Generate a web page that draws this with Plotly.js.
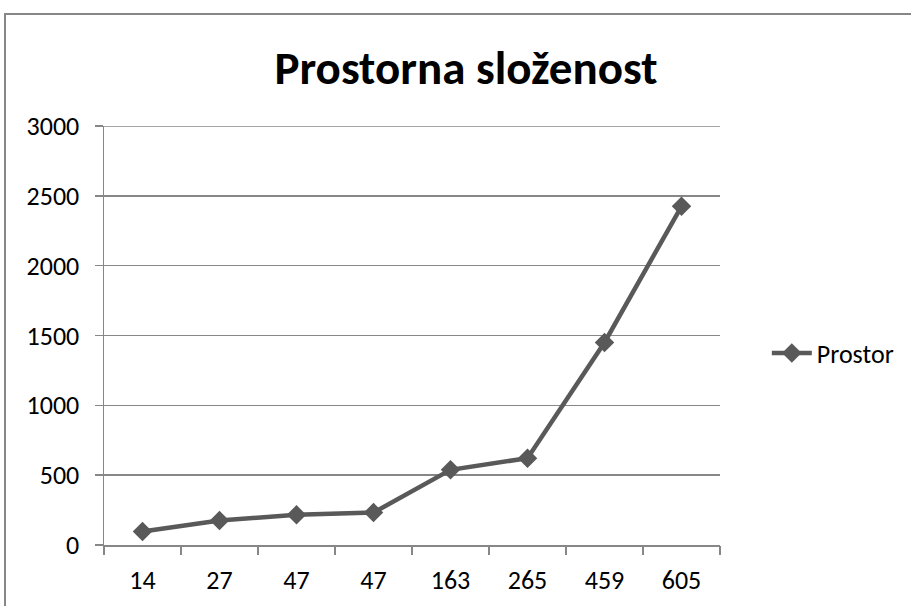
<!DOCTYPE html>
<html>
<head>
<meta charset="utf-8">
<script src="https://cdn.plot.ly/plotly-3.0.1.min.js"></script>
<style>
  html, body { margin: 0; padding: 0; background: #fff; overflow: hidden; }
  #chart { width: 911px; height: 606px; position: absolute; left: 0; top: 0; }
  #frame { position: absolute; left: 4px; top: 13px; width: 1000px; height: 1000px;
           border: 2px solid #878787; pointer-events: none; }
</style>
</head>
<body>
<div id="chart"></div>
<div id="frame"></div>
<script>
const categories = ["14", "27", "47", "47", "163", "265", "459", "605"];
const prostor = [96, 175, 216, 232, 538, 622, 1450, 2425];
const seriesName = "Prostor";
const chartTitle = "Prostorna složenost";
const yTicks = [0, 500, 1000, 1500, 2000, 2500, 3000];

const idx = categories.map((c, i) => i);
const boundaries = [];
for (let i = 0; i <= categories.length; i++) boundaries.push(i - 0.5);

const FONT = "Carlito, Lato, 'Open Sans', sans-serif";
const GRID = "#878787";
const LINE = "#595959";
const yMax = yTicks[yTicks.length - 1];

const trace = {
  x: idx, y: prostor, name: seriesName, type: "scatter", mode: "lines+markers",
  line: { color: LINE, width: 4.5 },
  marker: { symbol: "diamond", size: 15, color: LINE },
  cliponaxis: false
};
// invisible trace that carries the boundary tick marks on xaxis2
const tickTrace = {
  x: [boundaries[0], boundaries[boundaries.length - 1]], y: [0, 0], xaxis: "x2", yaxis: "y",
  mode: "none", showlegend: false, hoverinfo: "skip"
};

const layout = {
  width: 911, height: 606,
  margin: { l: 104, r: 191, t: 126, b: 61 },
  paper_bgcolor: "#fff", plot_bgcolor: "#fff",
  font: { family: FONT, color: "#000", size: 26 },
  title: { text: "<b>" + chartTitle + "</b>", font: { family: FONT, size: 47, color: "#000" },
           x: 466 / 911, xanchor: "center", xref: "container", y: 1 - 68 / 606, yanchor: "middle", yref: "container" },
  xaxis: {
    range: [-0.5, categories.length - 0.5], tickvals: idx, ticktext: categories,
    ticks: "", showgrid: false, zeroline: false, showline: true, linecolor: GRID, linewidth: 1.5,
    tickfont: { family: FONT, size: 26, color: "#000" }, ticklabelstandoff: 11
  },
  xaxis2: {
    overlaying: "x", anchor: "y", side: "bottom",
    range: [-0.5, categories.length - 0.5], tickvals: boundaries, ticktext: boundaries.map(() => ""),
    ticks: "outside", ticklen: 9, tickwidth: 1.5, tickcolor: GRID, showgrid: false, zeroline: false, showline: false
  },
  yaxis: {
    range: [0, yMax], tickvals: yTicks, ticktext: yTicks.map(String),
    ticks: "outside", ticklen: 8, tickwidth: 1.5, tickcolor: GRID,
    showgrid: true, gridcolor: GRID, gridwidth: 1.5, zeroline: false,
    showline: true, linecolor: GRID, linewidth: 1.5,
    tickfont: { family: FONT, size: 26, color: "#000" }, ticklabelstandoff: 10
  },
  shapes: [{
    type: "line", xref: "paper", yref: "y", x0: 0, x1: 1, y0: yMax, y1: yMax,
    line: { color: GRID, width: 1.5 }, layer: "below"
  }],
  showlegend: true,
  legend: { x: 1.076, xanchor: "left", y: 0.458, yanchor: "middle",
            font: { family: FONT, size: 26, color: "#000" }, bgcolor: "rgba(0,0,0,0)", itemwidth: 40 }
};

Plotly.newPlot("chart", [trace, tickTrace], layout, { staticPlot: true, displayModeBar: false });
</script>
</body>
</html>
